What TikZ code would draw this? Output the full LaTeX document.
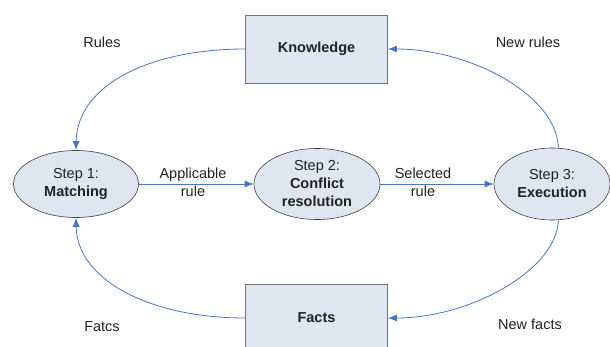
\documentclass[tikz,border=0pt]{standalone}
\usepackage{fontspec}
\setmainfont{Liberation Sans}
\usetikzlibrary{arrows.meta,shapes.geometric}
\definecolor{nodefill}{HTML}{DFE6F2}
\definecolor{edgeblue}{HTML}{4A78C0}
\definecolor{txt}{HTML}{222222}
\tikzset{
  stepnode/.style={ellipse,draw=black!75,fill=nodefill,inner sep=0pt,align=center,text=txt,
    font=\fontsize{14.5}{18}\selectfont,line width=0.6pt},
  storebox/.style={rectangle,draw=black!55,fill=nodefill,inner sep=0pt,text=txt,
    minimum width=142pt,minimum height=68pt,font=\fontsize{14.5}{18}\selectfont\bfseries,line width=0.8pt},
  flow/.style={draw=edgeblue,line width=0.8pt,-{Latex[length=9pt,width=7pt]}},
  lbl/.style={text=txt,align=center,font=\fontsize{14.5}{18}\selectfont,inner sep=0pt}
}
\begin{document}
\begin{tikzpicture}[x=1pt,y=-1pt]
\useasboundingbox (0,0) rectangle (610,347);
\fill[white] (0,0) rectangle (610,347);
\node[storebox] (know) at (316.5,49) {Knowledge};
\node[storebox] (facts) at (316.5,318) {Facts};
\node[stepnode,minimum width=125pt,minimum height=67pt] (s1) at (76,184) {Step 1:\\\textbf{Matching}};
\node[stepnode,minimum width=126pt,minimum height=71pt] (s2) at (317,184) {Step 2:\\\textbf{Conflict}\\\textbf{resolution}};
\node[stepnode,minimum width=116pt,minimum height=72pt] (s3) at (552,184) {Step 3:\\\textbf{Execution}};
\draw[flow] (s1.east) -- (s2.west);
\draw[flow] (s2.east) -- (s3.west);
\draw[flow] (know.west) .. controls (150,49) and (77,85) .. (s1.north);
\draw[flow] (s3.80) .. controls (557,95) and (470,49) .. (know.east);
\draw[flow] (facts.west) .. controls (150,318) and (77,280) .. (s1.south);
\draw[flow] (s3.-80) .. controls (557,270) and (470,318) .. (facts.east);
\node[lbl] (lapp) at (193,182) {Applicable\\rule};
\node[lbl] (lsel) at (423,182) {Selected\\rule};
\node[lbl] (lrules) at (102,42) {Rules};
\node[lbl] (lnewr) at (528,42) {New rules};
\node[lbl] (lfatcs) at (102,327) {Fatcs};
\node[lbl] (lnewf) at (530,324) {New facts};
\end{tikzpicture}
\end{document}
